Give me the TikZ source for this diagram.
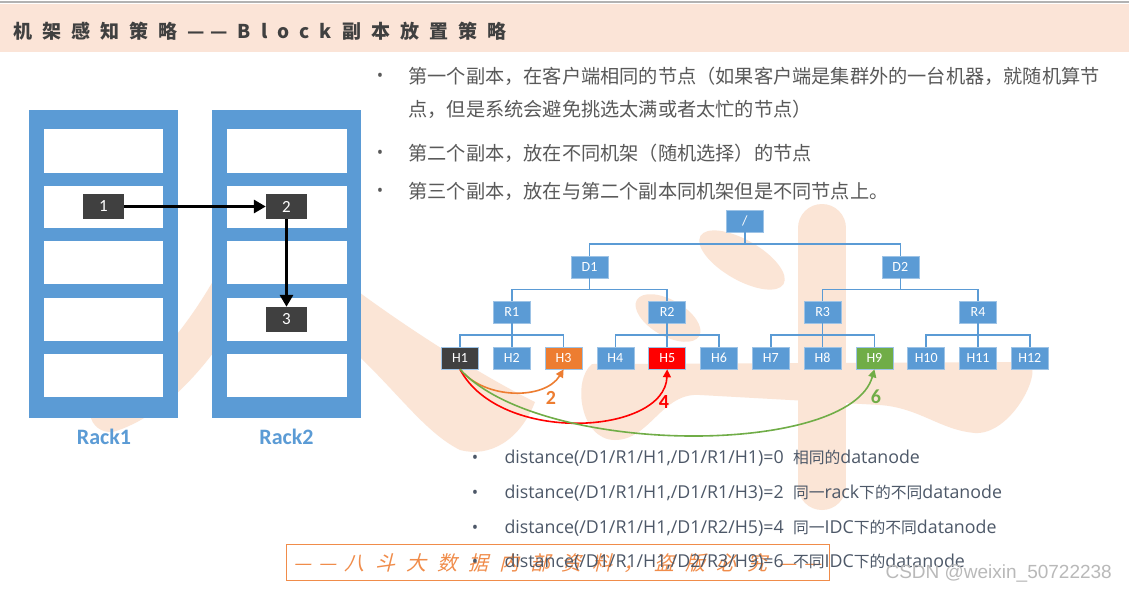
\documentclass[tikz,border=0pt]{standalone}
\usepackage{fontspec}
\usetikzlibrary{arrows.meta,calc}
\setmainfont{Open Sans}
\newfontfamily\cjk{Noto Sans CJK SC}
\newfontfamily\cjktitle[LetterSpace=53]{Noto Sans CJK SC}
\newfontfamily\wmfont[FakeSlant=0.25,LetterSpace=55]{Noto Sans CJK SC}
\newfontfamily\lab{Carlito}
\newfontfamily\csdnfont{Liberation Sans}
\newcommand{\dcjk}[1]{{\cjk\fontsize{15.8}{15.8}\selectfont #1}}
\definecolor{rackblue}{HTML}{5B9BD5}
\definecolor{darkbox}{HTML}{404040}
\definecolor{peach}{HTML}{FBE5D6}
\definecolor{titlebar}{HTML}{FBE4D7}
\definecolor{titlegray}{HTML}{404040}
\definecolor{txtgray}{HTML}{595959}
\definecolor{distgray}{HTML}{4D5868}
\definecolor{aorange}{HTML}{ED7D31}
\definecolor{ared}{HTML}{FF0000}
\definecolor{agreen}{HTML}{70AD47}
\definecolor{wmorange}{HTML}{F08C4A}
\tikzset{
  tnode/.style={fill=rackblue, draw=rackblue!60, line width=0.6pt, minimum width=37pt, minimum height=22pt, inner sep=0pt,
    text=white, font=\lab\fontsize{14}{14}\selectfont},
  tline/.style={draw=rackblue, line width=1.5pt},
  rbox/.style={fill=darkbox, minimum width=41pt, minimum height=25pt, inner sep=0pt,
    text=white, font=\lab\fontsize{17}{17}\selectfont},
  rackarrow/.style={line width=3pt, -{Triangle[length=12pt,width=13pt]}},
  curvearrow/.style={line width=1.6pt, -{Triangle[length=8pt,width=8pt]}},
  bul/.style={anchor=center, font=\fontsize{17}{17}\selectfont},
  toptext/.style={anchor=west, text=txtgray, font=\cjk\fontsize{19.2}{19.2}\selectfont},
  disttext/.style={anchor=west, text=distgray, font=\fontsize{17.8}{17.8}\selectfont},
  racklab/.style={text=rackblue, font=\lab\bfseries\fontsize{22}{22}\selectfont},
  numlab/.style={font=\lab\bfseries\fontsize{20}{20}\selectfont}
}
\newcommand{\treelink}[2]{\draw[tline] (#1.south) |- ($(#1.south)!.5!(#2.north)$) -| (#2.north);}
\begin{document}
\begin{tikzpicture}[x=1pt,y=-1pt]
\useasboundingbox (0,0) rectangle (1129,592);
\fill[white] (0,0) rectangle (1129,592);
% title bar
\fill[titlebar] (0,4) rectangle (1129,52);
\draw[gray!60, line width=2pt] (0,1.5) -- (1129,1.5);
\node[anchor=west, text=titlegray, font=\cjktitle\bfseries\fontsize{19}{19}\selectfont] (title) at (10,31) {机架感知策略—\hspace{5pt}—Block副本放置策略};
% background watermark strokes
\draw[peach, line width=40pt, line cap=round] (245,265) .. controls (205,340) and (160,395) .. (110,412);
\fill[peach] (330,270) .. controls (380,310) and (470,370) .. (535,402) .. controls (520,440) and (490,458) .. (460,450) .. controls (420,430) and (390,380) .. (330,330) -- cycle;
\fill[peach, rotate around={-30:(742,260)}] (742,260) ellipse (48pt and 20pt);
\fill[peach, rotate around={-30:(668,318)}] (668,318) ellipse (36pt and 18pt);
\draw[peach, line width=48pt, line cap=round] (822,228) -- (822,486);
\fill[peach] (592,364) -- (1030,362) .. controls (1042,375) and (1010,435) .. (975,433) .. controls (940,430) and (920,408) .. (880,405) -- (700,395) .. controls (662,392) and (650,440) .. (615,440) .. controls (580,440) and (572,380) .. (592,364) -- cycle;
% racks
\fill[rackblue] (29,110) rectangle (178,418);
\fill[rackblue] (212,110) rectangle (361,418);
\foreach \ya/\yb in {129/173,186/228,241/284,298/341,354/397}{
  \fill[white] (44,\ya) rectangle (163,\yb);
  \fill[white] (227,\ya) rectangle (347,\yb);
}
\node[rbox] (n1) at (103.5,206.5) {1};
\node[rbox] (n2) at (286.5,206.5) {2};
\node[rbox] (n3) at (286.5,319.5) {3};
\draw[rackarrow] (n1.east) -- (n2.west);
\draw[rackarrow] (n2.south) -- (n3.north);
\node[racklab] (rack1) at (104,437) {Rack1};
\node[racklab] (rack2) at (286.5,437) {Rack2};
% top bullets
\node[bul, text=txtgray] (b1) at (380,77) {•};
\node[toptext] (t1) at (405,76) {第一个副本，在客户端相同的节点（如果客户端是集群外的一台机器，就随机算节};
\node[toptext] (t1b) at (405,109) {点，但是系统会避免挑选太满或者太忙的节点）};
\node[bul, text=txtgray] (b2) at (380,154) {•};
\node[toptext] (t2) at (405,153) {第二个副本，放在不同机架（随机选择）的节点};
\node[bul, text=txtgray] (b3) at (380,192) {•};
\node[toptext] (t3) at (405,191) {第三个副本，放在与第二个副本同机架但是不同节点上。};
% tree
\node[tnode] (root) at (744.9,221) {/};
\node[tnode] (D1) at (589.5,267) {D1};
\node[tnode] (D2) at (900.3,267) {D2};
\node[tnode] (R1) at (511.8,312) {R1};
\node[tnode] (R2) at (667.2,312) {R2};
\node[tnode] (R3) at (822.6,312) {R3};
\node[tnode] (R4) at (978,312) {R4};
\foreach \i/\c in {1/darkbox,2/rackblue,3/aorange,4/rackblue,5/ared,6/rackblue,7/rackblue,8/rackblue,9/agreen,10/rackblue,11/rackblue,12/rackblue}{
  \node[tnode, fill=\c] (H\i) at ({460+51.8*(\i-1)},358) {H\i};
}
\treelink{root}{D1}
\treelink{root}{D2}
\treelink{D1}{R1}
\treelink{D1}{R2}
\treelink{D2}{R3}
\treelink{D2}{R4}
\foreach \r/\a/\b/\c in {R1/1/2/3,R2/4/5/6,R3/7/8/9,R4/10/11/12}{
  \treelink{\r}{H\a}
  \treelink{\r}{H\b}
  \treelink{\r}{H\c}
}
% distance arrows
\draw[curvearrow, draw=aorange] (H1.south) .. controls (485,400) and (545,400) .. (H3.south);
\draw[curvearrow, draw=ared] (H1.south) .. controls (500,445) and (665,435) .. (H5.south);
\draw[curvearrow, draw=agreen] (H1.south) .. controls (540,457) and (850,457) .. (H9.south);
\node[numlab, text=aorange] (l2) at (551,398) {2};
\node[numlab, text=ared] (l4) at (664,402) {4};
\node[numlab, text=agreen] (l6) at (876,397) {6};
% watermark box
\node[draw=wmorange, line width=1pt, minimum width=543pt, minimum height=36pt, inner sep=0pt] (wm) at (558,562) {};
\node[anchor=west, text=wmorange, font=\wmfont\fontsize{20}{20}\selectfont] (wmtext) at (290,563) {—\hspace{7pt}—\hspace{8pt}八斗大数据内部资料，盗版必究—\hspace{7pt}—};
% distance lines
\node[bul, text=distgray] (db1) at (475,459) {•};
\node[disttext] (d1) at (501,458) {distance(/D1/R1/H1,/D1/R1/H1)=0\ \ \dcjk{相同的}datanode};
\node[bul, text=distgray] (db2) at (475,494) {•};
\node[disttext] (d2) at (501,493) {distance(/D1/R1/H1,/D1/R1/H3)=2\ \ \dcjk{同一}rack\dcjk{下的不同}datanode};
\node[bul, text=distgray] (db3) at (475,529) {•};
\node[disttext] (d3) at (501,528) {distance(/D1/R1/H1,/D1/R2/H5)=4\ \ \dcjk{同一}IDC\dcjk{下的不同}datanode};
\node[bul, text=distgray] (db4) at (475,563) {•};
\node[disttext] (d4) at (501,562) {distance(/D1/R1/H1,/D2/R3/H9)=6\ \ \dcjk{不同}IDC\dcjk{下的}datanode};
% csdn mark
\node[anchor=west, text=gray!55, font=\csdnfont\fontsize{19}{19}\selectfont] (csdn) at (882,573) {CSDN @weixin\_50722238};
\end{tikzpicture}
\end{document}
